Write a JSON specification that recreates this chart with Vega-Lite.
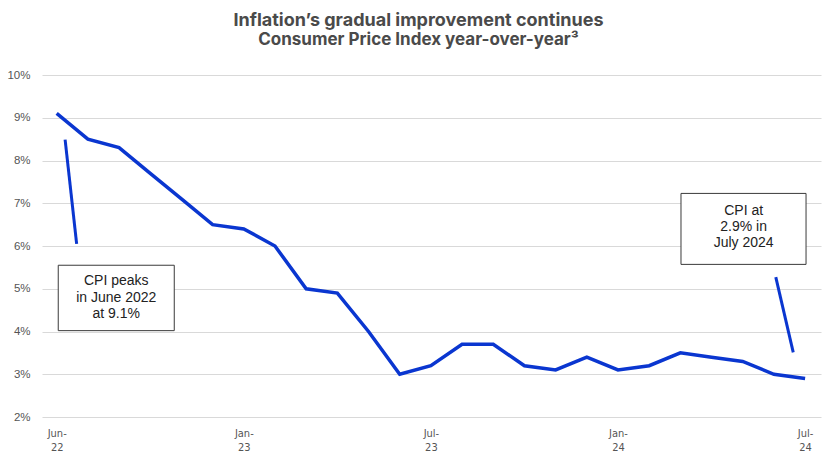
{
  "$schema": "https://vega.github.io/schema/vega-lite/v6.json",
  "width": 779,
  "height": 342,
  "autosize": {"type": "none"},
  "padding": {"left": 42, "top": 75, "right": 19, "bottom": 55},
  "background": "white",
  "config": {"view": {"stroke": null}},
  "title": {
    "text": "Inflation’s gradual improvement continues",
    "subtitle": "Consumer Price Index year-over-year³",
    "anchor": "middle",
    "frame": "group",
    "dx": -13,
    "offset": 21,
    "font": "Inter",
    "fontSize": 18,
    "fontWeight": "bold",
    "color": "#4a4a4a",
    "subtitleFont": "Inter",
    "subtitleFontSize": 17,
    "subtitleFontWeight": "bold",
    "subtitleColor": "#4a4a4a",
    "subtitlePadding": 2
  },
  "datasets": {
    "cpi": [
      {"i": 0, "month": "Jun-22", "cpi": 9.1},
      {"i": 1, "month": "Jul-22", "cpi": 8.5},
      {"i": 2, "month": "Aug-22", "cpi": 8.3},
      {"i": 3, "month": "Oct-22", "cpi": 7.7},
      {"i": 4, "month": "Nov-22", "cpi": 7.1},
      {"i": 5, "month": "Dec-22", "cpi": 6.5},
      {"i": 6, "month": "Jan-23", "cpi": 6.4},
      {"i": 7, "month": "Feb-23", "cpi": 6.0},
      {"i": 8, "month": "Mar-23", "cpi": 5.0},
      {"i": 9, "month": "Apr-23", "cpi": 4.9},
      {"i": 10, "month": "May-23", "cpi": 4.0},
      {"i": 11, "month": "Jun-23", "cpi": 3.0},
      {"i": 12, "month": "Jul-23", "cpi": 3.2},
      {"i": 13, "month": "Aug-23", "cpi": 3.7},
      {"i": 14, "month": "Sep-23", "cpi": 3.7},
      {"i": 15, "month": "Oct-23", "cpi": 3.2},
      {"i": 16, "month": "Nov-23", "cpi": 3.1},
      {"i": 17, "month": "Dec-23", "cpi": 3.4},
      {"i": 18, "month": "Jan-24", "cpi": 3.1},
      {"i": 19, "month": "Feb-24", "cpi": 3.2},
      {"i": 20, "month": "Mar-24", "cpi": 3.5},
      {"i": 21, "month": "Apr-24", "cpi": 3.4},
      {"i": 22, "month": "May-24", "cpi": 3.3},
      {"i": 23, "month": "Jun-24", "cpi": 3.0},
      {"i": 24, "month": "Jul-24", "cpi": 2.9}
    ],
    "leaders": [
      {"x": 0.27, "y": 8.49, "x2": 0.64, "y2": 6.05},
      {"x": 23.06, "y": 5.27, "x2": 23.62, "y2": 3.51}
    ],
    "boxes": [
      {"x": 0.05, "x2": 3.77, "y": 5.55, "y2": 4.02},
      {"x": 20.02, "x2": 24.03, "y": 7.23, "y2": 5.57}
    ],
    "notes": [
      {"x": 1.91, "y": 5.18, "line": "CPI peaks"},
      {"x": 1.91, "y": 4.79, "line": "in June 2022"},
      {"x": 1.91, "y": 4.42, "line": "at 9.1%"},
      {"x": 22.03, "y": 6.83, "line": "CPI at"},
      {"x": 22.03, "y": 6.44, "line": "2.9% in"},
      {"x": 22.03, "y": 6.06, "line": "July 2024"}
    ]
  },
  "layer": [
    {
      "data": {"name": "cpi"},
      "mark": {"type": "line", "color": "#0a36d0", "strokeWidth": 3.5, "strokeJoin": "miter", "strokeCap": "butt"},
      "encoding": {
        "x": {
          "field": "i",
          "type": "quantitative",
          "scale": {"domain": [-0.471, 24.51], "nice": false, "zero": false},
          "axis": {
            "title": null,
            "values": [0, 6, 12, 18, 24],
            "labelExpr": "datum.value == 0 ? ['Jun-', '22'] : datum.value == 6 ? ['Jan-', '23'] : datum.value == 12 ? ['Jul-', '23'] : datum.value == 18 ? ['Jan-', '24'] : ['Jul-', '24']",
            "grid": false,
            "domain": false,
            "ticks": false,
            "labelPadding": 10,
            "labelFont": "DejaVu Sans Condensed",
            "labelFontSize": 11,
            "labelLineHeight": 14.5,
            "labelColor": "#555555",
            "labelFlush": false,
            "labelOverlap": false
          }
        },
        "y": {
          "field": "cpi",
          "type": "quantitative",
          "scale": {"domain": [2, 10], "nice": false, "zero": false},
          "axis": {
            "title": null,
            "values": [2, 3, 4, 5, 6, 7, 8, 9, 10],
            "labelExpr": "datum.value + '%'",
            "grid": true,
            "gridColor": "#d9d9d9",
            "gridWidth": 1,
            "domain": false,
            "ticks": false,
            "labelPadding": 12,
            "labelFont": "Liberation Sans",
            "labelFontSize": 11.5,
            "labelColor": "#555555"
          }
        }
      }
    },
    {
      "data": {"name": "leaders"},
      "mark": {"type": "rule", "color": "#0a36d0", "strokeWidth": 3, "strokeCap": "butt"},
      "encoding": {
        "x": {"field": "x", "type": "quantitative"},
        "y": {"field": "y", "type": "quantitative"},
        "x2": {"field": "x2"},
        "y2": {"field": "y2"}
      }
    },
    {
      "data": {"name": "boxes"},
      "mark": {"type": "rect", "fill": "white", "stroke": "#3a3a3a", "strokeWidth": 1},
      "encoding": {
        "x": {"field": "x", "type": "quantitative"},
        "y": {"field": "y", "type": "quantitative"},
        "x2": {"field": "x2"},
        "y2": {"field": "y2"}
      }
    },
    {
      "data": {"name": "notes"},
      "mark": {"type": "text", "font": "Liberation Sans", "fontSize": 14, "color": "#222222", "align": "center", "baseline": "middle"},
      "encoding": {
        "x": {"field": "x", "type": "quantitative"},
        "y": {"field": "y", "type": "quantitative"},
        "text": {"field": "line"}
      }
    }
  ]
}
